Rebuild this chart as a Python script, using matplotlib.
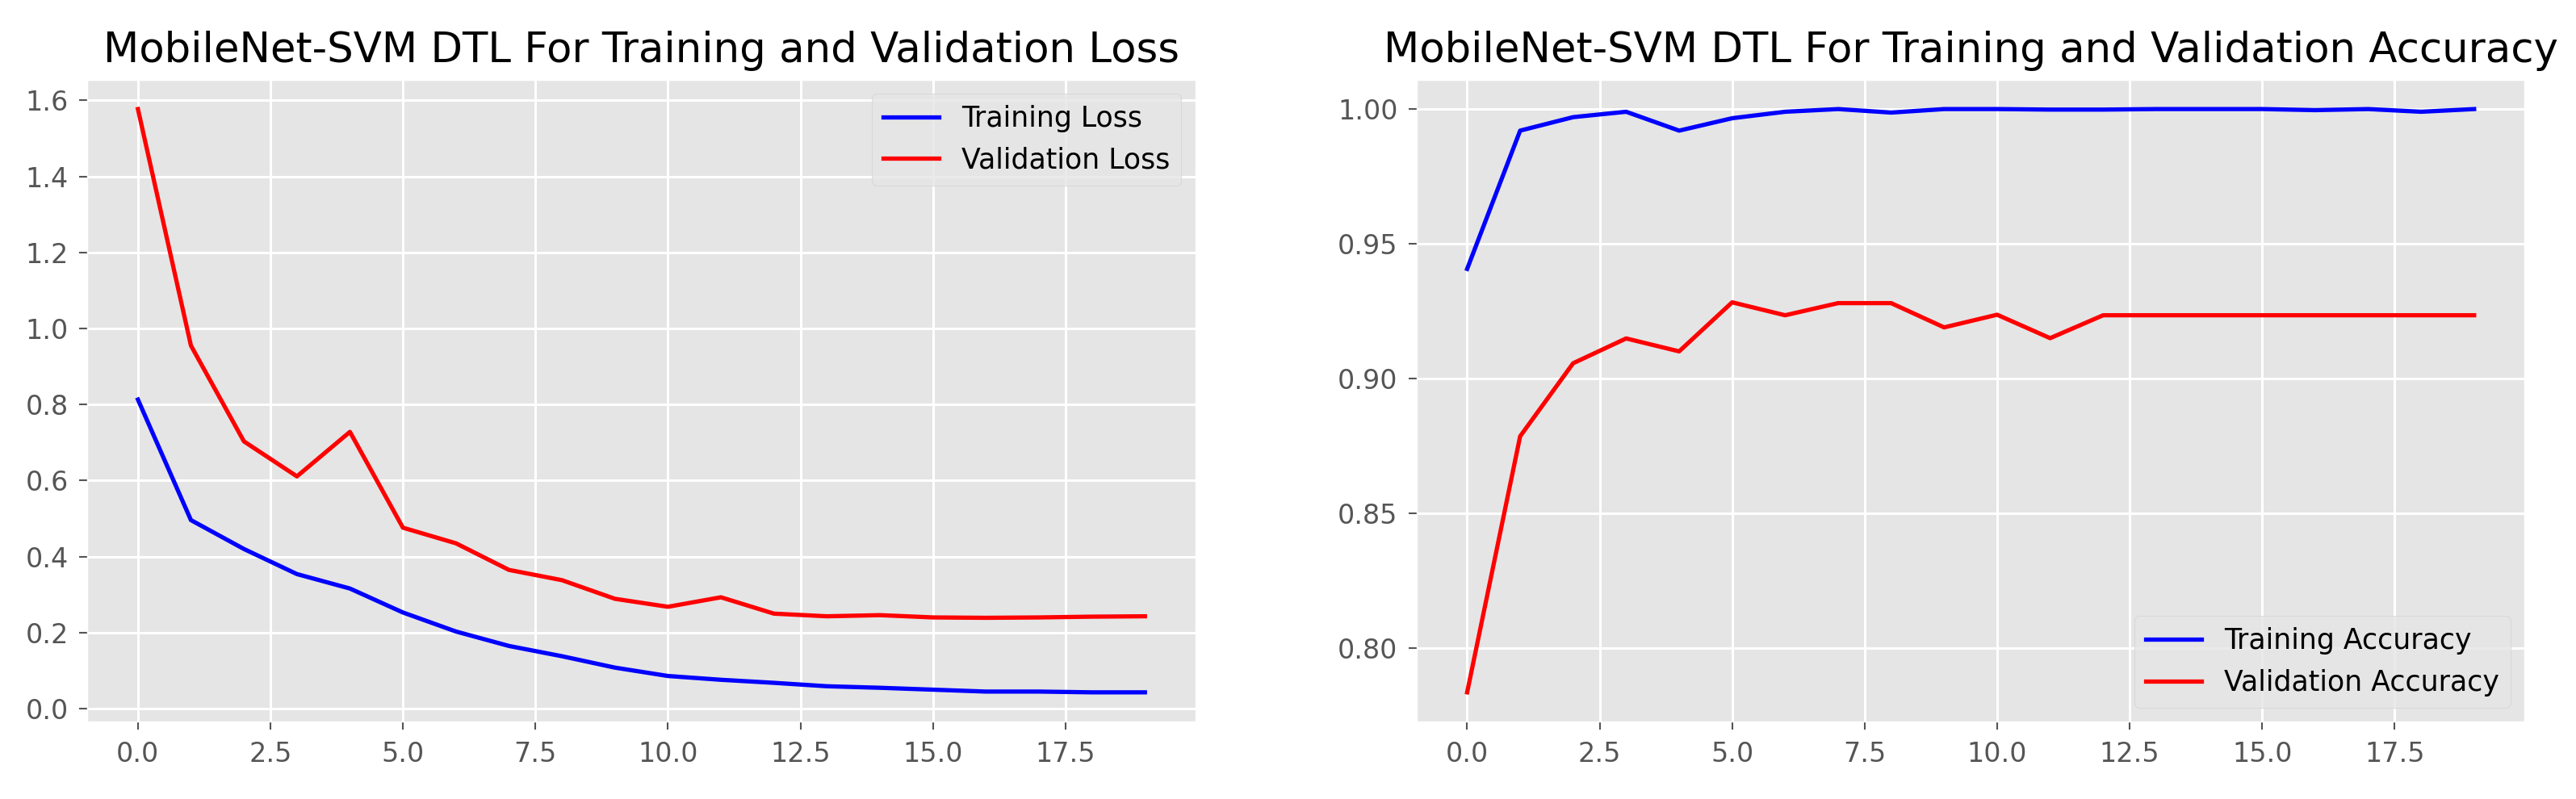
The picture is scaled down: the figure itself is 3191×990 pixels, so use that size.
import matplotlib
matplotlib.use("Agg")
from matplotlib import pyplot as plt
import numpy as np

plt.style.use("ggplot")

# epochs
epochs = list(range(20))

# loss values
train_loss = [0.813, 0.496, 0.420, 0.354, 0.316, 0.253, 0.203, 0.165, 0.138, 0.108,
              0.086, 0.076, 0.068, 0.059, 0.055, 0.050, 0.045, 0.045, 0.043, 0.043]
val_loss = [1.577, 0.955, 0.703, 0.611, 0.728, 0.476, 0.435, 0.365, 0.338, 0.289,
            0.268, 0.293, 0.250, 0.243, 0.246, 0.240, 0.239, 0.240, 0.242, 0.243]

# accuracy values
train_acc = [0.9407, 0.9920, 0.9970, 0.9990, 0.9920, 0.9966, 0.9990, 1.0000, 0.9987, 1.0000,
             1.0000, 0.9998, 0.9998, 1.0000, 1.0000, 1.0000, 0.9996, 1.0000, 0.9990, 1.0000]
val_acc = [0.7836, 0.8786, 0.9057, 0.9149, 0.9101, 0.9283, 0.9235, 0.9280, 0.9280, 0.9190,
           0.9237, 0.9150, 0.9235, 0.9235, 0.9235, 0.9235, 0.9235, 0.9235, 0.9235, 0.9235]

fig = plt.figure(figsize=(31.91, 9.90), dpi=100)
ax1 = fig.add_axes([0.034, 0.097, 0.430, 0.803])
ax2 = fig.add_axes([0.550, 0.097, 0.430, 0.803])

ax1.plot(epochs, train_loss, color='b', lw=3.8, label="Training Loss")
ax1.plot(epochs, val_loss, color='r', lw=3.8, label="Validation Loss")
ax1.set_title("MobileNet-SVM DTL For Training and Validation Loss", fontsize=37, pad=16)
ax1.legend(loc='upper right', fontsize=25)

ax2.plot(epochs, train_acc, color='b', lw=3.8, label="Training Accuracy")
ax2.plot(epochs, val_acc, color='r', lw=3.8, label="Validation Accuracy")
ax2.set_title("MobileNet-SVM DTL For Training and Validation Accuracy", fontsize=37, pad=16)
ax2.legend(loc='lower right', fontsize=25)

for ax in (ax1, ax2):
    ax.tick_params(labelsize=24, length=7, width=1.5, pad=10)
    ax.grid(True, color='white', linewidth=2.2)

fig.savefig("out.png", dpi=100)
